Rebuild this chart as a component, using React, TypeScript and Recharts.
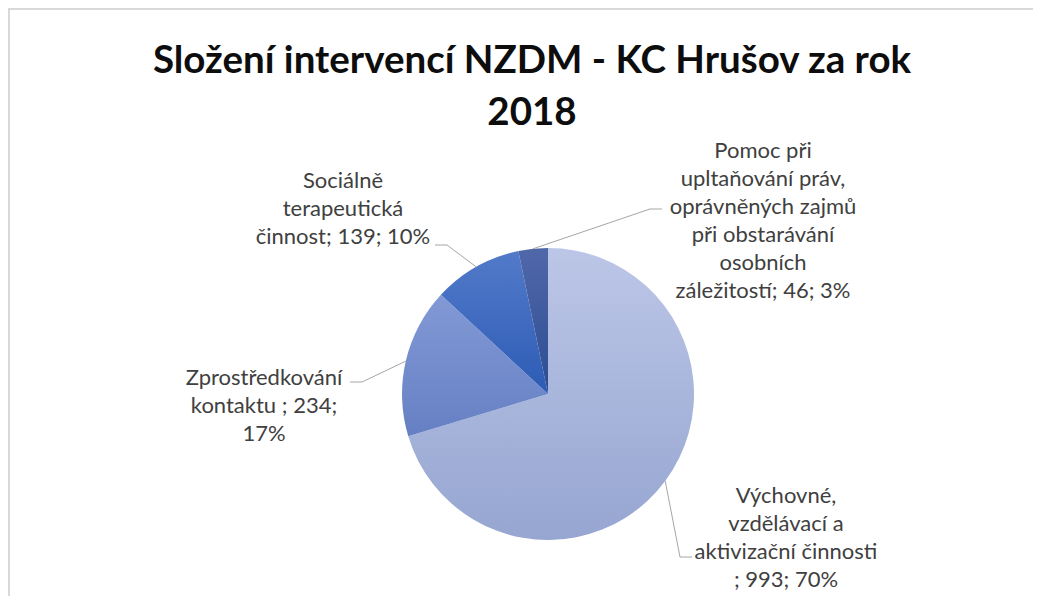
import { Cell, Pie, PieChart } from "recharts"

// kategorie a hodnoty
const categories = [
  "Výchovné, vzdělávací a aktivizační činnosti ",
  "Zprostředkování kontaktu ",
  "Sociálně terapeutická činnost",
  "Pomoc při upltaňování práv, oprávněných zajmů při obstarávání osobních záležitostí",
]
const values = [993, 234, 139, 46]

const data = categories.map((name, i) => ({ name, value: values[i] }))

// barvy výsečí (nahoře světlejší, dole tmavší)
const gradients = [
  ["#bcc6e7", "#96a6d1"],
  ["#8399d6", "#6580c3"],
  ["#527ac9", "#2d5bb5"],
  ["#5068aa", "#2d4c91"],
]

// rozložení popisků: střed textu, první řádek, konec vodicí čáry, počty slov na řádek
const labelLayout = [
  { x: 778, y: 487, endX: 684, endY: 549, side: "right", words: [1, 2, 2, 3] },
  { x: 256, y: 369, endX: 342, endY: 374, side: "left", words: [1, 3, 1] },
  { x: 335, y: 172, endX: 427, endY: 237, side: "left", words: [1, 1, 3] },
  { x: 755, y: 142, endX: 654, endY: 201, side: "right", words: [2, 2, 2, 2, 1, 3] },
]

const RAD = Math.PI / 180
const LINE_H = 28

function renderLabel(props: any) {
  const { cx, cy, midAngle, outerRadius, name, value, percent, index } = props
  const lay = labelLayout[index]
  const px = cx + outerRadius * Math.cos(-midAngle * RAD)
  const py = cy + outerRadius * Math.sin(-midAngle * RAD)
  const elbowX = lay.side === "left" ? lay.endX + 12 : lay.endX - 12
  const text = `${name}; ${value}; ${Math.round(percent * 100)}%`
  const words = text.split(" ").filter((w) => w.length > 0)
  const lines: string[] = []
  let k = 0
  lay.words.forEach((n) => {
    lines.push(words.slice(k, k + n).join(" "))
    k += n
  })
  return (
    <g key={`lbl-${index}`}>
      <polyline
        points={`${px},${py} ${elbowX},${lay.endY} ${lay.endX},${lay.endY}`}
        fill="none"
        stroke="#a6a6a6"
        strokeWidth={1}
      />
      <text
        x={lay.x}
        y={lay.y}
        textAnchor="middle"
        fill="#404040"
        fontSize={22}
        fontFamily="Lato, 'Open Sans', sans-serif"
      >
        {lines.map((l, i) => (
          <tspan key={i} x={lay.x} y={lay.y + i * LINE_H} dy="0.35em">
            {l}
          </tspan>
        ))}
      </text>
    </g>
  )
}

export default function App() {
  return (
    <div style={{ position: "relative", width: 1025, height: 588, background: "#fff", overflow: "hidden" }}>
      <style>{`html,body{overflow:hidden}.recharts-pie-sectors{filter:drop-shadow(0 1px 2px rgba(0,0,0,0.3))}`}</style>
      <div
        style={{
          position: "absolute",
          left: 0,
          top: 0,
          width: 1100,
          height: 700,
          borderTop: "2px solid #d9d9d9",
          borderLeft: "2px solid #d9d9d9",
          boxSizing: "border-box",
        }}
      />
      <div
        style={{
          position: "absolute",
          left: 24,
          top: 24,
          width: 1000,
          textAlign: "center",
          fontFamily: "Lato, 'Open Sans', sans-serif",
          fontWeight: 700,
          fontSize: 38.5,
          lineHeight: "52px",
          color: "#0d0d0d",
        }}
      >
        Složení intervencí NZDM - KC Hrušov za rok
        <br />
        2018
      </div>
      <PieChart width={1025} height={588} style={{ position: "absolute", left: 0, top: 0 }}>
        <defs>
          {gradients.map((g, i) => (
            <linearGradient key={i} id={`slice${i}`} x1="0" y1="0" x2="0" y2="1">
              <stop offset="0%" stopColor={g[0]} />
              <stop offset="100%" stopColor={g[1]} />
            </linearGradient>
          ))}
        </defs>
        <Pie
          data={data}
          dataKey="value"
          nameKey="name"
          cx={535}
          cy={381}
          outerRadius={146}
          startAngle={90}
          endAngle={-270}
          stroke="none"
          label={renderLabel}
          labelLine={false}
          isAnimationActive={false}
        >
          {data.map((d, i) => (
            <Cell key={d.name} fill={`url(#slice${i})`} />
          ))}
        </Pie>
      </PieChart>
    </div>
  )
}
